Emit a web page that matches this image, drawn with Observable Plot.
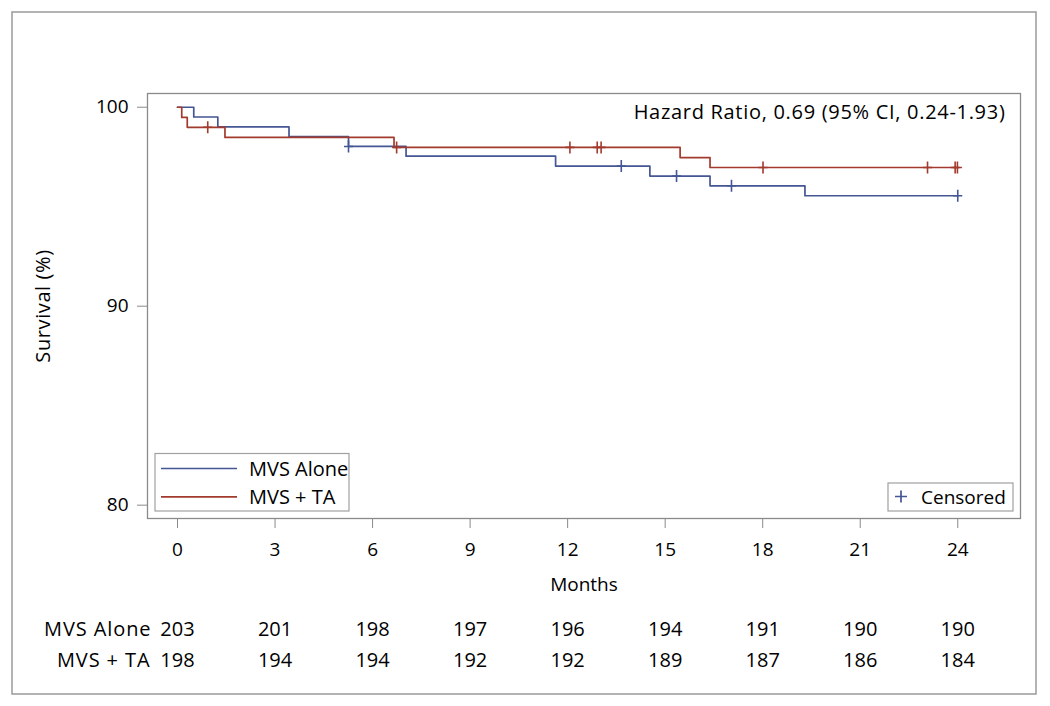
<!DOCTYPE html>
<html>
<head>
<meta charset="utf-8">
<script src="https://cdn.jsdelivr.net/npm/d3@7"></script>
<script src="https://cdn.jsdelivr.net/npm/@observablehq/plot@0.6"></script>
<style>
  html, body { margin: 0; padding: 0; background: #fff; }
  #chart svg { display: block; }
</style>
</head>
<body>
<div id="chart"></div>
<script>
// ---- Data ----
const groups = ["MVS Alone", "MVS + TA"];
const groupColors = ["#445694", "#A23A2E"];

// Kaplan-Meier step curves (time in months, survival %)
const aloneTimes = [0, 0.5, 1.24, 3.43, 5.26, 7.03, 11.63, 14.53, 16.38, 19.3, 24.0];
const aloneSurv  = [100, 99.51, 99.01, 98.52, 98.03, 97.54, 97.04, 96.54, 96.05, 95.55, 95.55];
const taTimes    = [0, 0.13, 0.3, 1.46, 6.66, 15.46, 16.38, 24.0];
const taSurv     = [100, 99.49, 98.99, 98.48, 97.98, 97.47, 96.97, 96.97];

// Censored observations
const aloneCensorTimes = [5.26, 13.65, 15.35, 17.04, 24.0];
const aloneCensorSurv  = [98.03, 97.04, 96.54, 96.05, 95.55];
const taCensorTimes    = [0.93, 6.74, 12.07, 12.91, 13.03, 18.01, 23.07, 23.92, 23.99];
const taCensorSurv     = [98.99, 97.98, 97.98, 97.98, 97.98, 96.97, 96.97, 96.97, 96.97];

// Axis ticks
const xTicks = [0, 3, 6, 9, 12, 15, 18, 21, 24];
const yTicks = [80, 90, 100];

// Number at risk
const atRiskMonths = [0, 3, 6, 9, 12, 15, 18, 21, 24];
const atRiskAlone  = [203, 201, 198, 197, 196, 194, 191, 190, 190];
const atRiskTA     = [198, 194, 194, 192, 192, 189, 187, 186, 184];

const hazardText = "Hazard Ratio, 0.69 (95% CI, 0.24-1.93)";
const xLabel = "Months";
const yLabel = "Survival (%)";
const censorLabel = "Censored";

// ---- Build tables ----
const curve = (times, surv, g) => times.map((t, i) => ({time: t, surv: surv[i], group: g}));
const curves = [...curve(aloneTimes, aloneSurv, groups[0]), ...curve(taTimes, taSurv, groups[1])];
const censors = [...curve(aloneCensorTimes, aloneCensorSurv, groups[0]), ...curve(taCensorTimes, taCensorSurv, groups[1])];
const riskAlone = atRiskMonths.map((m, i) => ({month: m, n: atRiskAlone[i]}));
const riskTA = atRiskMonths.map((m, i) => ({month: m, n: atRiskTA[i]}));

// thin "+" symbol for censor marks
const thinPlus = {
  draw(ctx, size) {
    const r = Math.sqrt(size / Math.PI);
    ctx.moveTo(0, -r); ctx.lineTo(0, r);
    ctx.moveTo(-0.75 * r, 0); ctx.lineTo(0.75 * r, 0);
  }
};

const FONT = "'Open Sans', 'Noto Sans', sans-serif";
const GRAY = "#8a8a8a";

const chart = Plot.plot({
  width: 1050,
  height: 706,
  marginLeft: 147,
  marginRight: 30,
  marginTop: 93,
  marginBottom: 188,
  style: {fontFamily: FONT, fontSize: "19px", color: "#000", background: "#fff"},
  x: {domain: [-0.923, 25.93]},
  y: {domain: [79.33, 100.69]},
  color: {domain: groups, range: groupColors},
  marks: [
    Plot.axisY({ticks: yTicks, tickSize: 10, tickPadding: 9, stroke: GRAY, label: null, fontSize: 19}),
    Plot.axisX({ticks: xTicks, tickSize: 10, tickPadding: 14, stroke: GRAY, label: null, fontSize: 19}),
    Plot.frame({stroke: GRAY, strokeWidth: 1.3}),
    Plot.line(curves, {x: "time", y: "surv", z: "group", stroke: "group", curve: "step-after", strokeWidth: 1.7}),
    Plot.dot(censors, {x: "time", y: "surv", stroke: "group", symbol: thinPlus, r: 6, strokeWidth: 1.6, fill: "none"}),
    Plot.text([hazardText], {frameAnchor: "top-right", dx: -15, dy: 19, textAnchor: "end", lineAnchor: "middle", fontSize: 20, className: "hr"}),
    Plot.text([xLabel], {frameAnchor: "bottom", dy: 66, textAnchor: "middle", lineAnchor: "middle", fontSize: 19}),
    Plot.text([yLabel], {frameAnchor: "left", dx: -104, rotate: -90, textAnchor: "middle", lineAnchor: "middle", fontSize: 20, className: "ylab"}),
    // number-at-risk table
    Plot.text(riskAlone, {x: "month", text: "n", frameAnchor: "bottom", dy: 111, textAnchor: "middle", lineAnchor: "middle", fontSize: 20}),
    Plot.text(riskTA, {x: "month", text: "n", frameAnchor: "bottom", dy: 142, textAnchor: "middle", lineAnchor: "middle", fontSize: 20}),
    Plot.text([groups[0]], {frameAnchor: "bottom-left", dx: 4, dy: 111, textAnchor: "end", lineAnchor: "middle", fontSize: 20, className: "rowlab"}),
    Plot.text([groups[1]], {frameAnchor: "bottom-left", dx: 3, dy: 142, textAnchor: "end", lineAnchor: "middle", fontSize: 20, className: "rowlab"})
  ]
});

// ---- Decorations: outer border and legends ----
const svg = d3.select(chart);
svg.selectAll(".hr text").attr("letter-spacing", "0.7px");
svg.selectAll(".rowlab text").attr("letter-spacing", "0.9px");
svg.selectAll(".ylab text").attr("letter-spacing", "0.6px");

svg.insert("rect", ":first-child")
  .attr("x", 12).attr("y", 12).attr("width", 1024).attr("height", 682)
  .attr("fill", "#fff").attr("stroke", "#9a9a9a").attr("stroke-width", 1.5);

// Group legend (bottom-left inside frame)
const lg = svg.append("g").attr("font-family", FONT).attr("font-size", 20).attr("text-anchor", "start");
lg.append("rect").attr("x", 155).attr("y", 453.5).attr("width", 194).attr("height", 57.5)
  .attr("fill", "#fff").attr("stroke", "#a0a0a0").attr("stroke-width", 1.2);
groups.forEach((g, i) => {
  const yy = 468.5 + i * 28.3;
  lg.append("line").attr("x1", 161).attr("x2", 237).attr("y1", yy).attr("y2", yy)
    .attr("stroke", groupColors[i]).attr("stroke-width", 1.7);
  lg.append("text").attr("x", 249).attr("y", yy).attr("dy", "0.36em").attr("fill", "#000").text(g);
});

// Censored legend (bottom-right inside frame)
const cg = svg.append("g").attr("font-family", FONT).attr("font-size", 19).attr("text-anchor", "start");
cg.append("rect").attr("x", 888).attr("y", 483).attr("width", 125).attr("height", 28)
  .attr("fill", "#fff").attr("stroke", "#a0a0a0").attr("stroke-width", 1.2);
cg.append("path").attr("d", "M901,490.5V502.5M895,496.5H907")
  .attr("stroke", groupColors[0]).attr("stroke-width", 1.7).attr("fill", "none");
cg.append("text").attr("x", 921).attr("y", 497).attr("dy", "0.36em")
  .attr("fill", "#000").text(censorLabel);

document.getElementById("chart").append(chart);
</script>
</body>
</html>
